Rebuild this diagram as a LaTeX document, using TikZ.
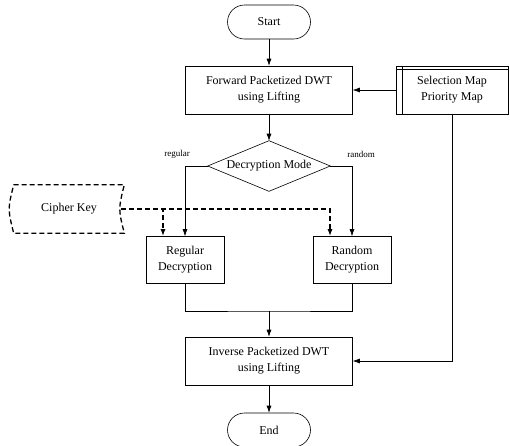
\documentclass[tikz,border=0pt]{standalone}
\usepackage{fontspec}
\setmainfont{Liberation Serif}
\usetikzlibrary{arrows.meta}

\begin{document}
\begin{tikzpicture}[
        x=1pt, y=-1pt,                        % pixel-like units, y pointing down
        >={Latex[length=7pt, width=5pt]},
        every path/.style={line width=0.6pt},
        every node/.style={align=center, font=\fontsize{12}{16}\selectfont},
        proc/.style={rectangle, draw, minimum width=167pt, minimum height=48pt},
        dec/.style={rectangle, draw, minimum width=78pt, minimum height=47pt},
        term/.style={rectangle, draw, rounded corners=17pt, minimum width=83pt, minimum height=34pt},
        choice/.style={rectangle, minimum width=122pt, minimum height=50pt, inner sep=0pt}, % diamond drawn below
        store/.style={rectangle, draw, minimum width=112pt, minimum height=48pt,
            path picture={
              \draw ([yshift=-3pt]path picture bounding box.north west) -- ([yshift=-3pt]path picture bounding box.north east);
              \draw ([xshift=6pt]path picture bounding box.north west) -- ([xshift=6pt]path picture bounding box.south west);
            }},
        keybox/.style={minimum width=110pt, minimum height=48pt},
        lbl/.style={font=\fontsize{9}{11}\selectfont},
        flow/.style={draw, ->},
        keyline/.style={draw, ->, line width=1.3pt, dash pattern=on 5pt off 3pt}
    ]
    \useasboundingbox (0,0) rectangle (510,445);

    % main column
    \node[term] (start) at (269,22) {Start};
    \node[proc] (fwd) at (269,90) {Forward Packetized DWT\\using Lifting};
    \node[choice] (mode) at (269,166) {Decryption Mode};
    \draw (mode.west) -- (mode.north) -- (mode.east) -- (mode.south) -- cycle;
    \node[dec] (reg) at (185,260) {Regular\\Decryption};
    \node[dec] (rnd) at (352,260) {Random\\Decryption};
    \node[proc] (inv) at (269,361) {Inverse Packetized DWT\\using Lifting};
    \node[term] (end) at (269,430) {End};

    % side inputs
    \node[store] (map) at (452,90) {Selection Map\\Priority Map};
    \node[keybox] (key) at (69,209) {Cipher Key};
    \draw[line width=1.3pt, dash pattern=on 5pt off 3pt]
        (key.north west) -- (key.north east)
        .. controls ([xshift=-6pt]key.east) .. (key.south east)
        -- (key.south west)
        .. controls ([xshift=-6pt]key.west) .. cycle;

    % branch labels
    \node[lbl] (lreg) at (177,154) {regular};
    \node[lbl] (lrnd) at (361,154) {random};

    \coordinate (merge) at (269,311);

    % connectors
    \draw[flow] (start) -- (fwd);
    \draw[flow] (fwd) -- (mode.north);
    \draw[flow] (mode.west) -| (reg);
    \draw[flow] (mode.east) -| (rnd);
    \draw (reg) |- (merge) -| (rnd);
    \draw[flow] (merge) -- (inv);
    \draw[flow] (inv) -- (end);
    \draw[flow] (map) -- (fwd);
    \draw[flow] (map) |- (inv);

    % key lines (dashed)
    \draw[keyline] ([xshift=-3pt]key.east) -| ([xshift=-22pt]reg.north);
    \draw[keyline] ([xshift=-3pt]key.east) -| ([xshift=-22pt]rnd.north);
\end{tikzpicture}
\end{document}
